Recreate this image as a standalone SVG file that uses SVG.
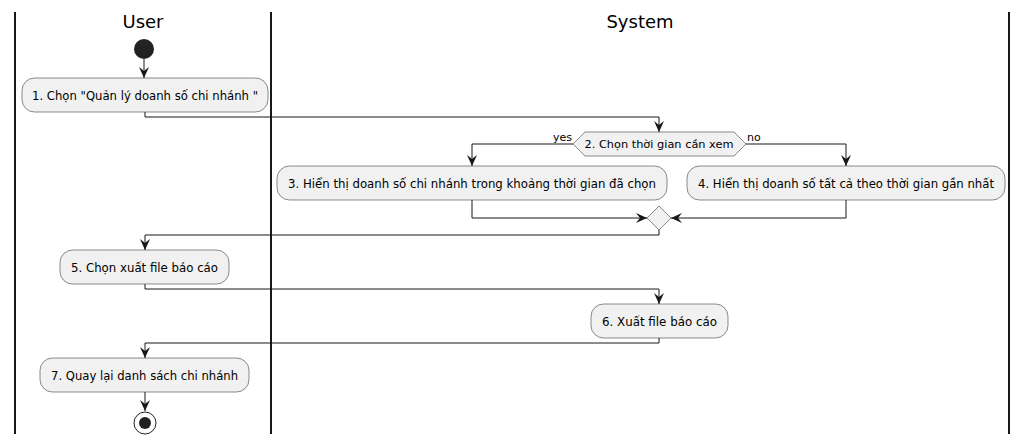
<svg xmlns="http://www.w3.org/2000/svg" width="1028" height="445" viewBox="0 0 1028 445">
<defs>
<style>
.lane{stroke:#181818;stroke-width:2;fill:none}
.title{font-family:"DejaVu Sans",sans-serif;font-size:18px;fill:#000;text-anchor:middle}
.act{fill:#F1F1F1;stroke:#181818;stroke-width:0.5}
.t{font-family:"DejaVu Sans",sans-serif;font-size:12px;fill:#000;text-anchor:middle}
.s{font-family:"DejaVu Sans",sans-serif;font-size:11px;fill:#000}
.c{fill:none;stroke:#181818;stroke-width:1}
</style>
<marker id="ah" viewBox="0 0 11 10" refX="11" refY="5" markerWidth="11" markerHeight="10" markerUnits="userSpaceOnUse" orient="auto">
<path d="M0,0 L11,5 L0,10 L4,5 Z" fill="#181818"/>
</marker>
</defs>
<rect width="1028" height="445" fill="#FFFFFF"/>
<g id="lanes">
<line class="lane" x1="15" y1="12" x2="15" y2="434"/>
<line class="lane" x1="271" y1="12" x2="271" y2="434"/>
<line class="lane" x1="1009" y1="12" x2="1009" y2="434"/>
<text class="title" x="143" y="28">User</text>
<text class="title" x="640" y="28">System</text>
</g>
<g id="connectors">
<path class="c" d="M144,59 V78" marker-end="url(#ah)"/>
<path class="c" d="M145,112 V117 H659 V132" marker-end="url(#ah)"/>
<path class="c" d="M573,144 H472 V166" marker-end="url(#ah)"/>
<path class="c" d="M746,144 H846 V166" marker-end="url(#ah)"/>
<path class="c" d="M472,200 V218 H647" marker-end="url(#ah)"/>
<path class="c" d="M846,200 V218 H671" marker-end="url(#ah)"/>
<path class="c" d="M659,230 V235 H145 V250" marker-end="url(#ah)"/>
<path class="c" d="M145,284 V289 H659 V304" marker-end="url(#ah)"/>
<path class="c" d="M659,338 V343 H145 V358" marker-end="url(#ah)"/>
<path class="c" d="M145,392 V411" marker-end="url(#ah)"/>
<text class="s" x="572" y="141" text-anchor="end">yes</text>
<text class="s" x="747" y="141">no</text>
</g>
<g id="start"><circle cx="144" cy="49" r="10" fill="#222222"/></g>
<g id="a1"><rect class="act" x="22" y="78" width="246" height="34" rx="12.5"/><text class="t" x="145" y="100" textLength="226" lengthAdjust="spacingAndGlyphs">1. Chọn "Quản lý doanh số chi nhánh "</text></g>
<g id="d2"><polygon class="act" points="573,144 585,132 734,132 746,144 734,156 585,156"/><text class="s" x="659" y="148" text-anchor="middle" textLength="149" lengthAdjust="spacingAndGlyphs">2. Chọn thời gian cần xem</text></g>
<g id="a3"><rect class="act" x="277" y="166" width="390" height="34" rx="12.5"/><text class="t" x="472" y="188" textLength="368" lengthAdjust="spacingAndGlyphs">3. Hiển thị doanh số chi nhánh trong khoảng thời gian đã chọn</text></g>
<g id="a4"><rect class="act" x="687" y="166" width="318" height="34" rx="12.5"/><text class="t" x="846" y="188" textLength="296" lengthAdjust="spacingAndGlyphs">4. Hiển thị doanh số tất cả theo thời gian gần nhất</text></g>
<g id="merge"><polygon class="act" points="659,206 671,218 659,230 647,218"/></g>
<g id="a5"><rect class="act" x="60" y="250" width="169" height="34" rx="12.5"/><text class="t" x="144.5" y="272" textLength="147" lengthAdjust="spacingAndGlyphs">5. Chọn xuất file báo cáo</text></g>
<g id="a6"><rect class="act" x="591" y="304" width="137" height="34" rx="12.5"/><text class="t" x="659.5" y="326" textLength="115" lengthAdjust="spacingAndGlyphs">6. Xuất file báo cáo</text></g>
<g id="a7"><rect class="act" x="40" y="358" width="209" height="34" rx="12.5"/><text class="t" x="144.5" y="380" textLength="187" lengthAdjust="spacingAndGlyphs">7. Quay lại danh sách chi nhánh</text></g>
<g id="stop"><circle cx="145" cy="423" r="11" fill="none" stroke="#222222" stroke-width="1"/><circle cx="145" cy="423" r="6" fill="#222222"/></g>
</svg>
